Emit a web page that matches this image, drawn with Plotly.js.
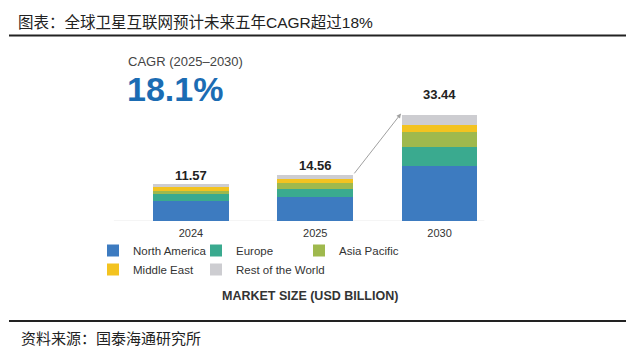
<!DOCTYPE html>
<html>
<head>
<meta charset="utf-8">
<script src="https://cdn.plot.ly/plotly-3.0.1.min.js"></script>
<style>
  html, body { margin: 0; padding: 0; background: #ffffff; }
  #chart { width: 640px; height: 357px; }
</style>
</head>
<body>
<div id="chart"></div>
<script>
// ---- data ----
const years = ["2024", "2025", "2030"];
const regions = ["North America", "Europe", "Asia Pacific", "Middle East", "Rest of the World"];
const northAmerica = [6.3, 7.7, 17.4];
const europe = [2.1, 2.5, 6.1];
const asiaPacific = [1.05, 1.7, 4.65];
const middleEast = [1.25, 1.45, 2.1];
const restOfWorld = [0.87, 1.21, 3.19];
const totals = [11.57, 14.56, 33.44];
const totalLabels = ["11.57", "14.56", "33.44"];
const cagrTitle = "CAGR (2025–2030)";
const cagrValue = "18.1%";
const chartTitle = "图表：全球卫星互联网预计未来五年CAGR超过18%";
const sourceText = "资料来源：国泰海通研究所";
const measureLabel = "MARKET SIZE (USD BILLION)";

// ---- styles ----
const seriesValues = [northAmerica, europe, asiaPacific, middleEast, restOfWorld];
const colors = ["#3d7bc0", "#3aaa8f", "#9fb94d", "#f3c320", "#cdcdd1"];
const W = 640, H = 357;
const M = { l: 93, r: 147, t: 80, b: 136 };
const PW = W - M.l - M.r, PH = H - M.t - M.b;
const px = x => (x - M.l) / PW;          // pixel x -> paper x
const py = y => (H - M.b - y) / PH;      // pixel y (from top) -> paper y
const latin = "Arial, 'Liberation Sans', sans-serif";
const cjk = "Arial, 'Liberation Sans', 'Noto Sans CJK SC', sans-serif";

const traces = regions.map((name, i) => ({
  type: "bar",
  name: name,
  x: years,
  y: seriesValues[i],
  width: 0.61,
  marker: { color: colors[i], line: { width: 0 } },
  hoverinfo: "skip"
}));

const annotations = [];
// totals above bars
years.forEach((yr, i) => {
  annotations.push({
    x: i, y: totals[i], xref: "x", yref: "y",
    text: "<b>" + totalLabels[i] + "</b>",
    showarrow: false, yanchor: "middle", xanchor: "center",
    yshift: i === 2 ? 21 : 9,
    font: { family: latin, size: 13, color: "#222222" }
  });
});
// growth arrow from 2025 bar to 2030 bar
annotations.push({
  x: 1.69, y: 33.9, xref: "x", yref: "y",
  ax: 1.305, ay: totals[1], axref: "x", ayref: "y",
  text: "", showarrow: true, arrowhead: 2, arrowsize: 0.9,
  arrowwidth: 1, arrowcolor: "#a0a0a0", standoff: 0, startstandoff: 0
});
// CAGR block
annotations.push({
  x: px(126), y: py(61.5), xref: "paper", yref: "paper",
  text: cagrTitle, showarrow: false, xanchor: "left", yanchor: "middle",
  font: { family: latin, size: 13, color: "#444444" }
});
annotations.push({
  x: px(125), y: py(88.5), xref: "paper", yref: "paper",
  text: "<b>" + cagrValue + "</b>", showarrow: false, xanchor: "left", yanchor: "middle",
  font: { family: latin, size: 34, color: "#1b6cb3" }
});
// measure label
annotations.push({
  x: px(310), y: py(296), xref: "paper", yref: "paper",
  text: "<b>" + measureLabel + "</b>", showarrow: false, xanchor: "center", yanchor: "middle",
  font: { family: latin, size: 12.5, color: "#333333" }
});
// source
annotations.push({
  x: px(19), y: py(338), xref: "paper", yref: "paper",
  text: sourceText, showarrow: false, xanchor: "left", yanchor: "middle",
  font: { family: cjk, size: 15, color: "#222222" }
});

const shapes = [
  { type: "line", xref: "paper", yref: "paper", x0: px(9), x1: px(626), y0: py(35.5), y1: py(35.5),
    line: { color: "#222222", width: 2 } },
  { type: "line", xref: "paper", yref: "paper", x0: px(9), x1: px(626), y0: py(321), y1: py(321),
    line: { color: "#222222", width: 2 } },
  { type: "line", xref: "x", yref: "y", x0: -0.62, x1: 2.36, y0: 0, y1: 0,
    line: { color: "#ebebeb", width: 1 }, layer: "below" }
];

const layout = {
  width: W, height: H,
  margin: M,
  paper_bgcolor: "#ffffff", plot_bgcolor: "#ffffff",
  barmode: "stack",
  showlegend: true,
  title: {
    text: chartTitle,
    xref: "container", yref: "container",
    x: 18 / W, xanchor: "left",
    y: 1 - 23 / H, yanchor: "middle",
    font: { family: cjk, size: 15.5, color: "#222222" }
  },
  xaxis: {
    type: "category",
    range: [-0.788, 2.43],
    showgrid: false, zeroline: false, showline: false,
    ticks: "", ticklabelstandoff: 4,
    tickfont: { family: latin, size: 11, color: "#333333" },
    fixedrange: true
  },
  yaxis: {
    range: [0, 44.5],
    showgrid: false, zeroline: false, showline: false,
    showticklabels: false, ticks: "", fixedrange: true
  },
  legend: {
    orientation: "h",
    x: 0, xanchor: "left",
    y: py(236), yanchor: "top",
    traceorder: "normal",
    entrywidth: 58, entrywidthmode: "pixels",
    font: { family: latin, size: 11.5, color: "#333333" },
    bgcolor: "rgba(0,0,0,0)"
  },
  annotations: annotations,
  shapes: shapes
};

Plotly.newPlot("chart", traces, layout, { displayModeBar: false, staticPlot: true });
</script>
</body>
</html>
